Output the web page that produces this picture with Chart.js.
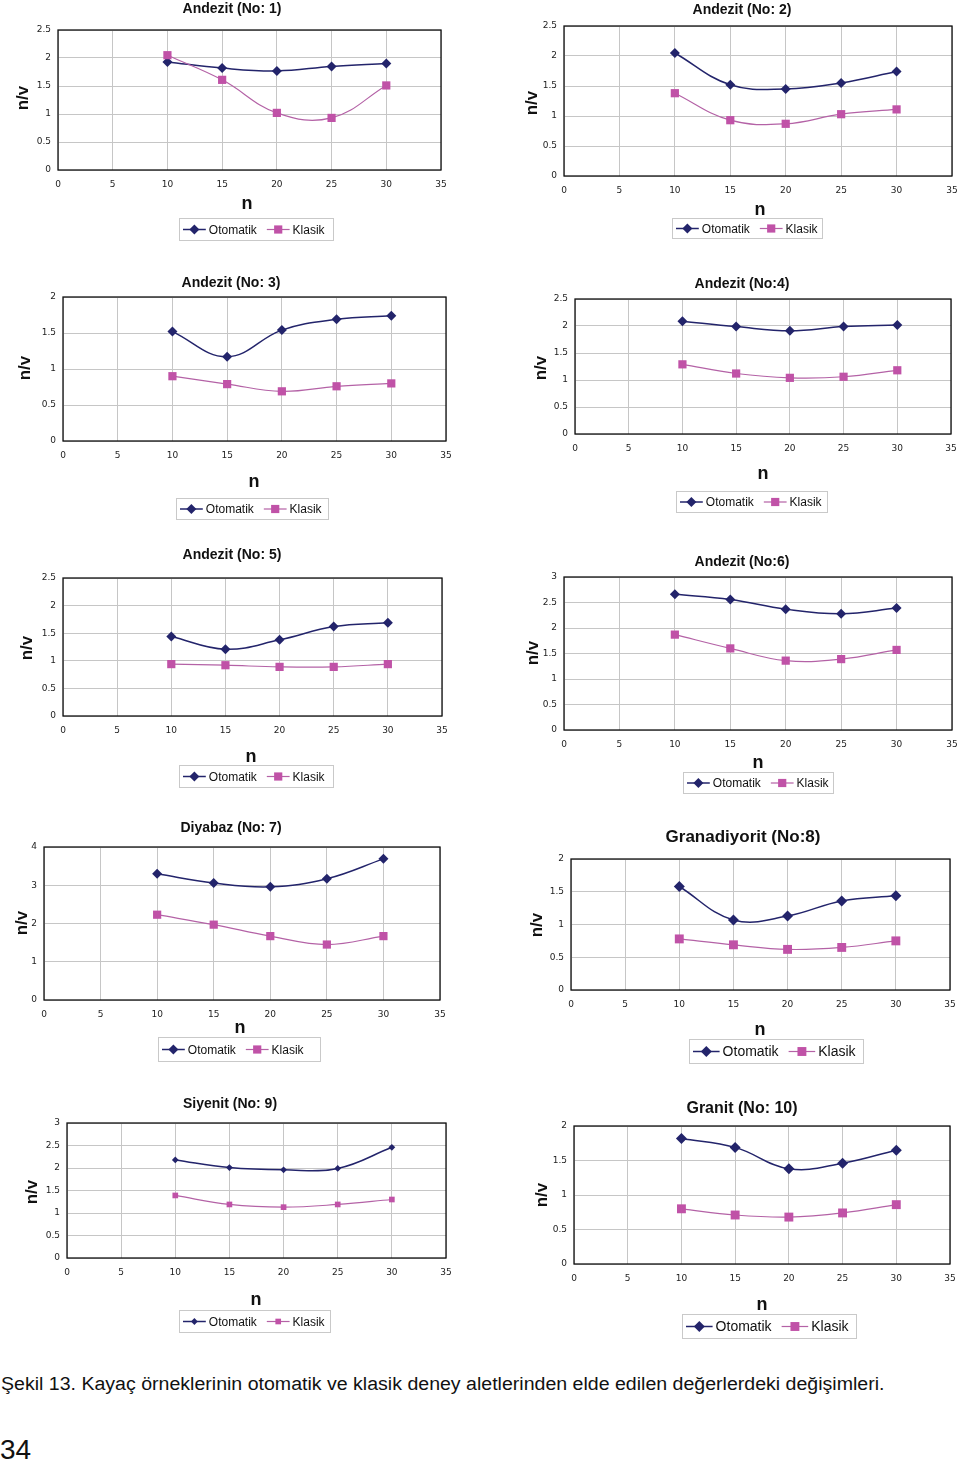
<!DOCTYPE html>
<html>
<head>
<meta charset="utf-8">
<script src="https://cdn.jsdelivr.net/npm/chart.js@4.4.1/dist/chart.umd.min.js"></script>
<style>
  body { margin: 0; background: #fff; width: 960px; height: 1461px; position: relative; overflow: hidden; font-family: "Liberation Sans", Arial, sans-serif; }
  canvas { position: absolute; }
  #caption { position: absolute; left: 1px; top: 1375px; font-size: 18px; line-height: 1; color: #111; white-space: nowrap; transform-origin: left top; }
  #page { position: absolute; left: 0px; top: 1436px; font-size: 28px; line-height: 1; color: #111; }
</style>
</head>
<body>
<div id="caption">Şekil 13. Kayaç örneklerinin otomatik ve klasik deney aletlerinden elde edilen değerlerdeki değişimleri.</div>
<div id="page">34</div>
<script>
// n değerleri (x ekseni)
const nValues = [10, 15, 20, 25, 30];
const seriesNames = ['Otomatik', 'Klasik'];

// n/v değerleri, grafik başına
const oto1 = [1.93, 1.82, 1.77, 1.85, 1.90];
const kla1 = [2.05, 1.61, 1.02, 0.93, 1.51];
const oto2 = [2.05, 1.52, 1.45, 1.55, 1.74];
const kla2 = [1.38, 0.93, 0.87, 1.03, 1.11];
const oto3 = [1.52, 1.17, 1.54, 1.69, 1.74];
const kla3 = [0.90, 0.79, 0.69, 0.76, 0.80];
const oto4 = [2.09, 1.99, 1.91, 1.99, 2.02];
const kla4 = [1.29, 1.12, 1.04, 1.06, 1.18];
const oto5 = [1.44, 1.21, 1.38, 1.62, 1.69];
const kla5 = [0.94, 0.92, 0.89, 0.89, 0.94];
const oto6 = [2.66, 2.56, 2.37, 2.28, 2.39];
const kla6 = [1.87, 1.60, 1.36, 1.39, 1.57];
const oto7 = [3.30, 3.06, 2.96, 3.17, 3.69];
const kla7 = [2.23, 1.97, 1.67, 1.45, 1.67];
const oto8 = [1.58, 1.07, 1.13, 1.36, 1.44];
const kla8 = [0.78, 0.69, 0.62, 0.65, 0.75];
const oto9 = [2.18, 2.01, 1.96, 1.99, 2.46];
const kla9 = [1.39, 1.19, 1.13, 1.19, 1.30];
const oto10 = [1.82, 1.69, 1.38, 1.46, 1.65];
const kla10 = [0.80, 0.71, 0.68, 0.74, 0.86];

const titles = ['Andezit (No: 1)', 'Andezit (No: 2)', 'Andezit (No: 3)', 'Andezit (No:4)', 'Andezit (No: 5)',
                'Andezit (No:6)', 'Diyabaz (No: 7)', 'Granadiyorit (No:8)', 'Siyenit (No: 9)', 'Granit (No: 10)'];
const yMax = [2.5, 2.5, 2, 2.5, 2.5, 3, 4, 2, 3, 2];
const yStep = [0.5, 0.5, 0.5, 0.5, 0.5, 0.5, 1, 0.5, 0.5, 0.5];
const xMax = 35, xStep = 5;

// yerleşim (sayfa koordinatları); sağ sütun tuvali sayfa dışına taşar, "35" etiketine yer kalsın
const layout = [
  { cell: [0, 0, 480, 262],      area: [58, 30, 441, 170],    title: [232, 9, 14],    n: [247, 204],  nv: [23, 98],   legend: [179, 218, 154, 22, 12], r: [5, 5.8] },
  { cell: [480, 0, 520, 262],    area: [564, 26, 952, 176],   title: [742, 10, 14],   n: [760, 210],  nv: [532, 103], legend: [672, 218, 150, 20, 12], r: [5, 5.8] },
  { cell: [0, 262, 480, 273],    area: [63, 297, 446, 441],   title: [231, 283, 14],  n: [254, 482],  nv: [25, 368],  legend: [176, 498, 152, 21, 12], r: [5, 5.8] },
  { cell: [480, 262, 520, 273],  area: [575, 299, 951, 434],  title: [742, 284, 14],  n: [763, 474],  nv: [541, 368], legend: [676, 491, 151, 21, 12], r: [5, 5.8] },
  { cell: [0, 535, 480, 270],    area: [63, 578, 442, 716],   title: [232, 555, 14],  n: [251, 757],  nv: [27, 648],  legend: [179, 765, 154, 22, 12], r: [5, 5.8] },
  { cell: [480, 535, 520, 270],  area: [564, 577, 952, 730],  title: [742, 562, 14],  n: [758, 763],  nv: [533, 653], legend: [683, 772, 150, 21, 12], r: [5, 5.8] },
  { cell: [0, 805, 480, 275],    area: [44, 847, 440, 1000],  title: [231, 828, 14],  n: [240, 1028], nv: [22, 923],  legend: [158, 1037, 162, 24, 12], r: [5, 5.8] },
  { cell: [480, 805, 520, 275],  area: [571, 859, 950, 990],  title: [743, 837, 17],  n: [760, 1030], nv: [537, 925], legend: [689, 1039, 174, 24, 14], r: [5.5, 6.3] },
  { cell: [0, 1080, 480, 270],   area: [67, 1123, 446, 1258], title: [230, 1104, 14], n: [256, 1300], nv: [32, 1192], legend: [179, 1310, 151, 22, 12], r: [3.4, 4] },
  { cell: [480, 1080, 520, 270], area: [574, 1126, 950, 1264], title: [742, 1109, 16], n: [762, 1305], nv: [542, 1195], legend: [682, 1314, 174, 24, 14], r: [5.5, 6.3] }
];

const OTO_COLOR = '#23246b';
const KLA_COLOR = '#c052a7';
const KLA_LINE = '#b462a6';
const Y_AXIS_W = 30, X_AXIS_H = 20;

function marker(ctx, style, x, y, r, color) {
  ctx.fillStyle = color;
  ctx.beginPath();
  if (style === 'rectRot') {
    ctx.moveTo(x, y - r); ctx.lineTo(x + r, y); ctx.lineTo(x, y + r); ctx.lineTo(x - r, y);
  } else {
    const s = r * Math.SQRT1_2;
    ctx.rect(x - s, y - s, 2 * s, 2 * s);
  }
  ctx.closePath();
  ctx.fill();
}

// çerçeve, başlık, eksen adları ve lejant
const extras = {
  id: 'extras',
  beforeDatasetsDraw(chart) {
    const a = chart.chartArea, ctx = chart.ctx;
    ctx.save();
    ctx.strokeStyle = '#111';
    ctx.lineWidth = 1.3;
    ctx.strokeRect(a.left, a.top, a.right - a.left, a.bottom - a.top);
    ctx.restore();
  },
  afterDraw(chart, args, opts) {
    const ctx = chart.ctx, L = opts.L, ox = L.cell[0], oy = L.cell[1];
    ctx.save();
    ctx.fillStyle = '#111';
    ctx.textAlign = 'center';
    ctx.textBaseline = 'middle';
    ctx.font = `bold ${L.title[2]}px "Liberation Sans", Arial, sans-serif`;
    ctx.fillText(opts.title, L.title[0] - ox, L.title[1] - oy);
    ctx.font = 'bold 18px "Liberation Sans", Arial, sans-serif';
    ctx.fillText('n', L.n[0] - ox, L.n[1] - oy);
    ctx.save();
    ctx.translate(L.nv[0] - ox, L.nv[1] - oy);
    ctx.rotate(-Math.PI / 2);
    ctx.font = 'bold 17px "Liberation Sans", Arial, sans-serif';
    ctx.fillText('n/v', 0, 0);
    ctx.restore();

    // lejant
    const [bx, by, bw, bh, fs] = L.legend;
    const x0 = bx - ox, y0 = by - oy;
    ctx.fillStyle = '#fff';
    ctx.fillRect(x0, y0, bw, bh);
    ctx.strokeStyle = '#c9c9c9';
    ctx.lineWidth = 1;
    ctx.strokeRect(x0 + 0.5, y0 + 0.5, bw, bh);
    ctx.font = `${fs}px "Liberation Sans", Arial, sans-serif`;
    ctx.textAlign = 'left';
    const cy = y0 + bh / 2 + 0.5;
    const lineLen = fs * 1.9;
    let x = x0 + 4;
    chart.data.datasets.slice().sort((p, q) => p.legendIdx - q.legendIdx).forEach(ds => {
      ctx.strokeStyle = ds.borderColor;
      ctx.lineWidth = ds.borderWidth;
      ctx.beginPath();
      ctx.moveTo(x, cy); ctx.lineTo(x + lineLen, cy);
      ctx.stroke();
      marker(ctx, ds.pointStyle, x + lineLen / 2, cy, ds.pointRadius, ds.pointBackgroundColor);
      x += lineLen + 3;
      ctx.fillStyle = '#111';
      ctx.fillText(ds.label, x, cy + 1);
      x += ctx.measureText(ds.label).width + 10;
    });
    ctx.restore();
  }
};

const otoSeries = [oto1, oto2, oto3, oto4, oto5, oto6, oto7, oto8, oto9, oto10];
const klaSeries = [kla1, kla2, kla3, kla4, kla5, kla6, kla7, kla8, kla9, kla10];
const fmt = v => String(Number(v.toFixed(2)));

layout.forEach((L, i) => {
  const [cx, cy, cw, ch] = L.cell;
  const [al, at, ar, ab] = L.area;
  const canvas = document.createElement('canvas');
  canvas.width = cw; canvas.height = ch;
  canvas.style.left = cx + 'px';
  canvas.style.top = cy + 'px';
  document.body.appendChild(canvas);

  const tickFont = { family: '"DejaVu Sans", Verdana, sans-serif', size: 9 };
  new Chart(canvas, {
    type: 'line',
    data: {
      datasets: [
        {
          label: seriesNames[0], legendIdx: 0, order: 1,
          data: nValues.map((n, k) => ({ x: n, y: otoSeries[i][k] })),
          borderColor: OTO_COLOR, borderWidth: 1.5,
          pointStyle: 'rectRot', pointRadius: L.r[0], pointBorderWidth: 0,
          pointBackgroundColor: OTO_COLOR, tension: 0.4
        },
        {
          label: seriesNames[1], legendIdx: 1, order: 0,
          data: nValues.map((n, k) => ({ x: n, y: klaSeries[i][k] })),
          borderColor: KLA_LINE, borderWidth: 1.2,
          pointStyle: 'rect', pointRadius: L.r[1], pointBorderWidth: 0,
          pointBackgroundColor: KLA_COLOR, tension: 0.4
        }
      ]
    },
    options: {
      responsive: false,
      animation: false,
      layout: {
        padding: {
          left: al - cx - Y_AXIS_W,
          top: at - cy,
          right: cx + cw - ar,
          bottom: cy + ch - ab - X_AXIS_H
        }
      },
      plugins: {
        legend: { display: false },
        tooltip: { enabled: false },
        extras: { L: L, title: titles[i] }
      },
      scales: {
        x: {
          type: 'linear', min: 0, max: xMax,
          afterFit: s => { s.height = X_AXIS_H; },
          ticks: { stepSize: xStep, color: '#222', font: tickFont, padding: 9, maxRotation: 0, callback: fmt },
          grid: { color: '#c6c6c6', drawTicks: false },
          border: { display: false }
        },
        y: {
          min: 0, max: yMax[i],
          afterFit: s => { s.width = Y_AXIS_W; },
          ticks: { stepSize: yStep[i], color: '#222', font: tickFont, padding: 7, callback: fmt },
          grid: { color: '#c6c6c6', drawTicks: false },
          border: { display: false }
        }
      }
    },
    plugins: [extras]
  });
});

// alt yazıyı referans genişliğine uydur
const cap = document.getElementById('caption');
cap.style.transform = `scaleX(${883 / cap.offsetWidth})`;
</script>
</body>
</html>
